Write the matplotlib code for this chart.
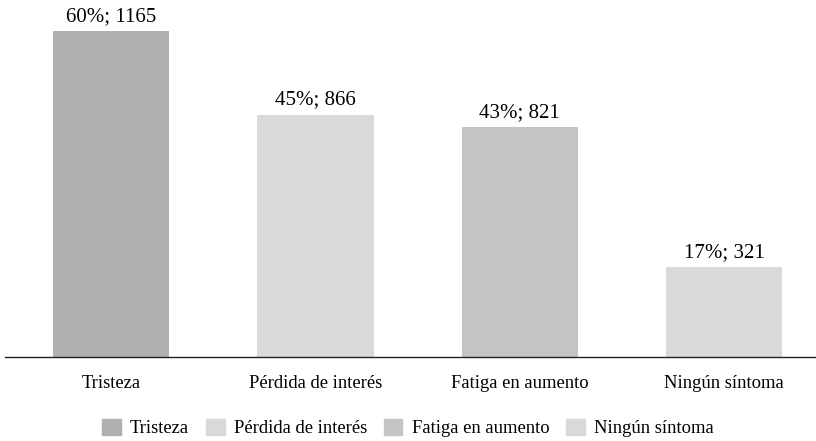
import matplotlib.pyplot as plt
from matplotlib.patches import Patch

categories = ['Tristeza', 'Pérdida de interés', 'Fatiga en aumento', 'Ningún síntoma']
counts = [1165, 866, 821, 321]
percents = [60, 45, 43, 17]
colors = ['#b0b0b0', '#d9d9d9', '#c4c4c4', '#d9d9d9']

plt.rcParams['font.family'] = ['Liberation Serif', 'DejaVu Serif']

fig = plt.figure(figsize=(8.16, 4.41), dpi=100)
ax = fig.add_axes([5 / 816, 1 - 357 / 441, 811 / 816, 357 / 441])

x = range(len(categories))
bars = ax.bar(x, counts, width=0.57, color=colors)
for b, p, c in zip(bars, percents, counts):
    ax.text(b.get_x() + b.get_width() / 2, c + 18, f'{p}%; {c}',
            ha='center', va='bottom', fontsize=15)

ax.set_xlim(-0.52, 3.45)
ax.set_ylim(0, 1275)
ax.set_xticks(list(x))
ax.set_xticklabels(categories, fontsize=13.4)
ax.tick_params(axis='x', length=0, pad=13)
ax.set_yticks([])
for s in ['top', 'right', 'left']:
    ax.spines[s].set_visible(False)
ax.spines['bottom'].set_color('#222222')
ax.spines['bottom'].set_linewidth(1)

handles = [Patch(color=c, label=l) for c, l in zip(colors, categories)]
fig.legend(handles=handles, loc='center', bbox_to_anchor=(0.5, 1 - 428 / 441),
           ncol=4, frameon=False, fontsize=13.4, handlelength=1.0, handleheight=1.0,
           handletextpad=0.5, columnspacing=0.9)

fig.savefig('out.png', dpi=100)
